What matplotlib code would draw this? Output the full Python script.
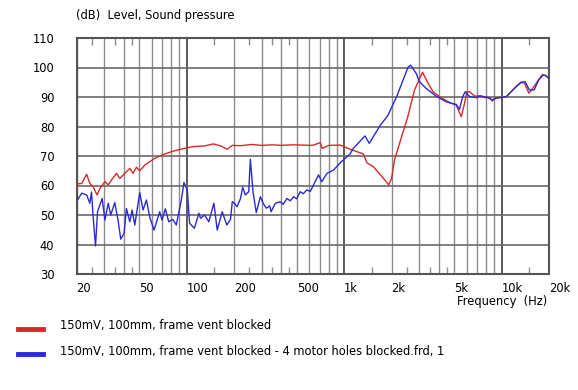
import numpy as np
import matplotlib.pyplot as plt
from matplotlib.ticker import FixedLocator, NullFormatter

# frequency response
red_freq = [20, 20, 20.1, 21.6, 23.2, 24.3, 25.5, 27.0, 28.2, 30.3, 31.8, 33.4, 35.9,
            37.7, 40.5, 43.6, 45.7, 48.0, 50.4, 54.2, 62.8, 72.6, 84, 97.2, 109.6,
            130, 148, 165, 181, 195, 220, 260, 300, 350, 400, 470, 550, 630, 705,
            727, 800, 946, 1090, 1326, 1395, 1531, 1731, 1921, 2002, 2088, 2301,
            2537, 2802, 3148, 3415, 3670, 4040, 4680, 5150, 5550, 5820, 6020, 6260,
            6740, 7250, 7800, 8400, 8730, 9030, 10700, 12100, 13300, 14000, 14900,
            15800, 17000, 18100, 19000, 20000]
red_db = [57.4, 61.3, 60.5, 60.7, 63.8, 60.7, 59.6, 56.8, 59.0, 61.3, 60.2, 61.9, 64.1,
          62.4, 64.1, 65.8, 64.1, 66.2, 65.0, 66.9, 69.2, 70.7, 71.8, 72.6, 73.2,
          73.4, 74.1, 73.4, 72.3, 73.6, 73.5, 73.9, 73.6, 73.8, 73.6, 73.8, 73.7, 73.6, 74.5,
          72.6, 73.6, 73.7, 72.3, 70.7, 67.7, 66.4, 63.2, 60.2, 62.4, 68.6, 76.0,
          83.3, 92.4, 98.4, 94.6, 91.8, 90.1, 88.1, 87.3, 83.3, 87.9, 91.8, 91.8,
          90.3, 90.4, 89.8, 89.8, 88.6, 89.6, 90.1, 93.0, 95.0, 94.6, 91.3,
          93.0, 95.5, 97.5, 97.3, 96.3]

blue_freq = [20, 20.3, 21.6, 23.2, 24.3, 24.9, 25.5, 26.4, 27.2, 29.1, 30.3, 31.8, 33.0,
             35.0, 36.7, 38.2, 40.1, 41.5, 43.6, 45.1, 46.9, 50.4, 52.9, 55.6, 58.3,
             62.1, 67.5, 69.8, 73.3, 77, 81.9, 86, 92.6, 96.2, 101, 104.5, 112,
             119.7, 122.6, 130, 138.4, 149, 156.5, 168.3, 180, 190, 195, 201, 209,
             220, 227, 236, 248, 254, 264, 277, 294, 306, 321, 337, 344, 366, 393,
             410, 434, 455, 478, 500, 527, 550, 580, 610, 640, 688, 722, 778, 855,
             946, 1090, 1145, 1357, 1445, 1687, 1904, 2155, 2372, 2546, 2645, 2870,
             3010, 3320, 3840, 4440, 5010, 5150, 5400, 5660, 5880, 6260, 6900, 7330,
             8200, 8730, 9250, 10700, 12400, 13300, 14100, 15000, 16100, 17200,
             18400, 19300, 20000]
blue_db = [57.9, 55.1, 57.4, 56.8, 54.0, 57.8, 49.4, 39.5, 51.1, 55.6, 48.3, 54.0, 50.0,
           54.2, 48.3, 41.8, 43.8, 52.2, 47.7, 51.7, 46.6, 57.6, 51.7, 55.1, 49.4,
           44.9, 51.1, 48.3, 52.1, 47.7, 48.5, 46.6, 55.1, 61.0, 58.5, 47.2, 45.5,
           50.6, 48.9, 50.0, 47.7, 54.0, 44.9, 51.1, 46.6, 48.5, 54.5, 54.0, 52.8,
           55.6, 59.4, 56.8, 57.9, 68.9, 57.9, 50.8, 56.2, 54.0, 52.3, 53.1, 51.1,
           54.0, 54.5, 53.6, 55.6, 54.8, 56.2, 55.5, 57.9, 57.2, 58.5, 58.0, 60.2,
           63.6, 61.3, 64.1, 65.2, 67.7, 70.7, 72.6, 76.8, 74.3, 80.2, 83.9, 90.1,
           95.8, 100.1, 100.8, 98.0, 95.2, 92.9, 90.3, 88.4, 87.6, 87.5, 85.8,
           90.1, 91.8, 90.1, 89.8, 90.4, 89.8, 89.0, 89.6, 90.1, 93.6, 95.0, 95.2,
           92.4, 92.4, 95.8, 97.5, 97.1, 96.3]

grid_freqs = [20, 30, 40, 50, 60, 70, 80, 90, 200, 300, 400, 500, 600, 700, 800, 900,
              2000, 3000, 4000, 5000, 6000, 7000, 8000, 9000]
decade_freqs = [100, 1000, 10000]
minor_freqs = [25, 35, 45, 150, 250, 350, 450, 1500, 2500, 3500, 4500, 15000]
tick_freqs = [20, 50, 100, 200, 500, 1000, 2000, 5000, 10000, 20000]
tick_labels = ['20', '50', '100', '200', '500', '1k', '2k', '5k', '10k', '20k']

red = '#d62a2a'
blue = '#2a2ad8'

plt.rcParams['font.family'] = 'DejaVu Sans'
plt.rcParams['font.size'] = 8.3

fig = plt.figure(figsize=(5.78, 3.90), dpi=100)
ax = fig.add_axes([76.5 / 578, 1 - 274 / 390, (549 - 76.5) / 578, (274 - 38) / 390])

ax.set_xscale('log')
ax.set_xlim(20, 20000)
ax.set_ylim(30, 110)

for f in grid_freqs:
    ax.axvline(f, color='#8c8c8c', lw=1.0, zorder=1)
for f in decade_freqs:
    ax.axvline(f, color='#5a5a5a', lw=1.4, zorder=1)
for v in range(40, 110, 10):
    ax.axhline(v, color='#6a6a6a', lw=1.2, zorder=1)

ax.plot(red_freq, red_db, color=red, lw=1.0, zorder=3)
ax.plot(blue_freq, blue_db, color=blue, lw=1.0, zorder=3)

ax.xaxis.set_major_locator(FixedLocator(tick_freqs))
ax.set_xticklabels(tick_labels)
ax.xaxis.set_minor_locator(FixedLocator(minor_freqs))
ax.xaxis.set_minor_formatter(NullFormatter())
ax.tick_params(axis='x', which='major', length=0, pad=6)
ax.tick_params(axis='x', which='minor', length=5, direction='in', top=True,
               color='#8c8c8c', width=1)
for lab in ax.get_xticklabels():
    lab.set_horizontalalignment('left')

ax.set_yticks(range(30, 111, 10))
ax.tick_params(axis='y', length=0, pad=16)

for s in ax.spines.values():
    s.set_color('#555555')
    s.set_linewidth(1.5)

fig.text(76 / 578, 1 - 16 / 390, '(dB)  Level, Sound pressure', va='center', ha='left')
fig.text(547 / 578, 1 - 302 / 390, 'Frequency  (Hz)', va='center', ha='right')

# legend
fig.add_artist(plt.Line2D([18 / 578, 43 / 578], [1 - 329 / 390] * 2, color=red, lw=3.5))
fig.add_artist(plt.Line2D([18 / 578, 43 / 578], [1 - 354 / 390] * 2, color=blue, lw=3.5))
fig.text(60 / 578, 1 - 326 / 390, '150mV, 100mm, frame vent blocked', va='center')
fig.text(60 / 578, 1 - 351 / 390,
         '150mV, 100mm, frame vent blocked - 4 motor holes blocked.frd, 1', va='center')

fig.savefig('out.png', dpi=100)
